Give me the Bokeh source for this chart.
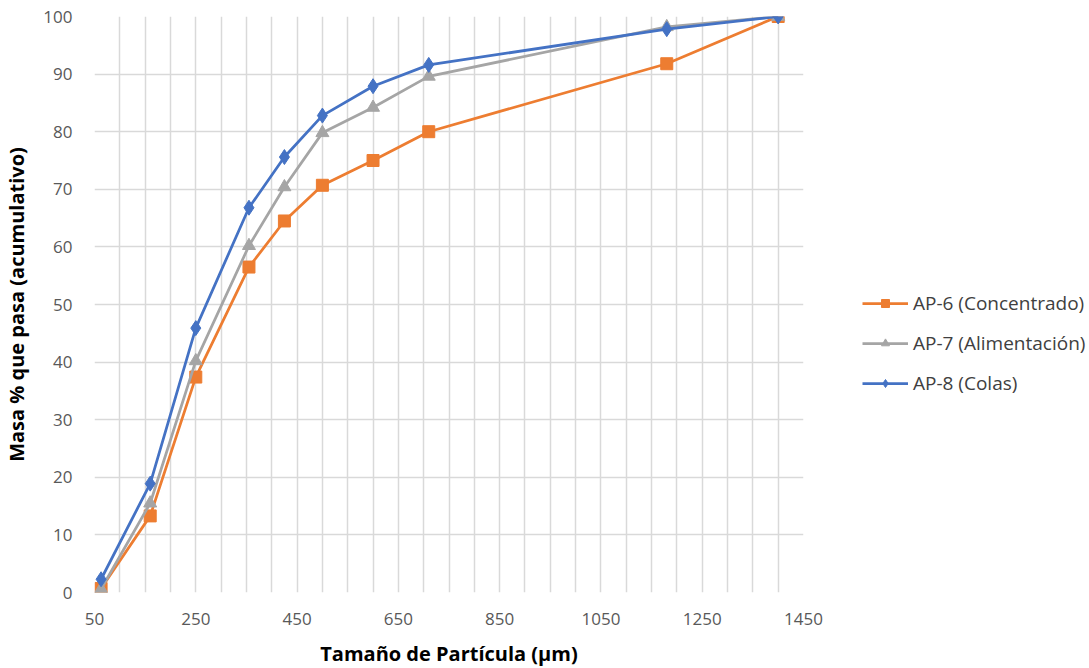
from bokeh.plotting import figure
from bokeh.models import FixedTicker, SingleIntervalTicker, Legend, LegendItem, Range1d
from bokeh.embed import file_html
from bokeh.resources import INLINE

# Data
sizes_um = [63, 160, 250, 355, 425, 500, 600, 710, 1180, 1400]
ap6_concentrado = [0.7, 13.3, 37.4, 56.5, 64.5, 70.7, 75.0, 80.0, 91.8, 100.0]
ap7_alimentacion = [0.6, 15.5, 40.2, 60.2, 70.4, 79.8, 84.2, 89.6, 98.2, 100.0]
ap8_colas = [2.3, 18.9, 45.9, 66.8, 75.6, 82.8, 87.9, 91.6, 97.8, 100.0]
x_ticks = [50, 250, 450, 650, 850, 1050, 1250, 1450]
y_ticks = [0, 10, 20, 30, 40, 50, 60, 70, 80, 90, 100]

FONT = "Open Sans"
ORANGE = "#ED7D31"
GRAY = "#A5A5A5"
BLUE = "#4472C4"

p = figure(frame_width=709, frame_height=576, output_backend="svg", toolbar_location=None,
           x_range=Range1d(50, 1450), y_range=Range1d(0, 100),
           min_border_left=92, min_border_top=16, min_border_right=0, min_border_bottom=0)
p.outline_line_color = None
p.background_fill_color = "white"
p.border_fill_color = "white"

for ax in (p.xaxis[0], p.yaxis[0]):
    ax.axis_line_color = None
    ax.major_tick_line_color = None
    ax.minor_tick_line_color = None
    ax.major_label_text_font = FONT
    ax.major_label_text_font_size = "17px"
    ax.major_label_text_color = "#595959"
    ax.axis_label_text_font = FONT
    ax.axis_label_text_font_size = "20px"
    ax.axis_label_text_font_style = "bold"
    ax.axis_label_text_color = "#000000"

p.xaxis.ticker = FixedTicker(ticks=x_ticks)
p.yaxis.ticker = FixedTicker(ticks=y_ticks)
p.xaxis.axis_label = "Tamaño de Partícula (µm)"
p.yaxis.axis_label = "Masa % que pasa (acumulativo)"
p.xaxis.major_label_standoff = 14
p.yaxis.major_label_standoff = 16
p.xaxis.axis_label_standoff = 12
p.yaxis.axis_label_standoff = 10

p.xgrid.ticker = SingleIntervalTicker(interval=50)
p.ygrid.ticker = FixedTicker(ticks=y_ticks)
for g in (p.xgrid[0], p.ygrid[0]):
    g.grid_line_color = "#D9D9D9"
    g.grid_line_width = 1.5

r6l = p.line(sizes_um, ap6_concentrado, line_color=ORANGE, line_width=2.75)
r6m = p.scatter(sizes_um, ap6_concentrado, marker="square", size=12, fill_color=ORANGE, line_color=ORANGE)
r7l = p.line(sizes_um, ap7_alimentacion, line_color=GRAY, line_width=2.75)
r7m = p.scatter(sizes_um, ap7_alimentacion, marker="triangle", size=13, fill_color=GRAY, line_color=GRAY)
r8l = p.line(sizes_um, ap8_colas, line_color=BLUE, line_width=2.75)
r8m = p.scatter(sizes_um, ap8_colas, marker="diamond", size=15, fill_color=BLUE, line_color=BLUE)

legend = Legend(items=[
    LegendItem(label="AP-6 (Concentrado)", renderers=[r6l, r6m]),
    LegendItem(label="AP-7 (Alimentación)", renderers=[r7l, r7m]),
    LegendItem(label="AP-8 (Colas)", renderers=[r8l, r8m]),
], location=(59, 196))
legend.border_line_color = None
legend.background_fill_alpha = 0
legend.padding = 0
legend.margin = 0
legend.spacing = 14
legend.glyph_width = 46
legend.glyph_height = 20
legend.label_height = 20
legend.label_standoff = 5
legend.label_text_font = FONT
legend.label_text_font_size = "19px"
legend.label_text_color = "#404040"
p.add_layout(legend, "right")

open("out.html", "w").write(file_html(p, INLINE))
